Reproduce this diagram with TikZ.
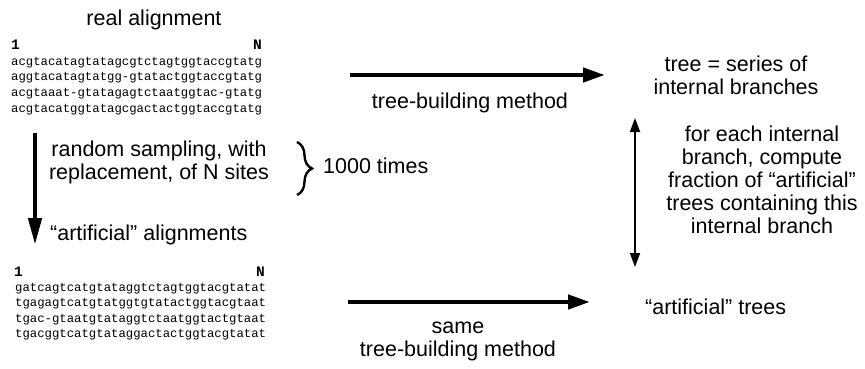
\documentclass[tikz,border=0pt]{standalone}
\usepackage{fontspec}
\setmainfont{Liberation Sans}
\newfontfamily\seqfont{Liberation Mono}
\usetikzlibrary{arrows.meta,decorations.pathreplacing}
\begin{document}
\begin{tikzpicture}[x=1pt,y=-1pt,
  lbl/.style={inner sep=0pt, anchor=base, align=center,
    font=\fontsize{21.5}{23}\selectfont},
  seq/.style={inner sep=0pt, anchor=base west,
    font=\seqfont\fontsize{12.3}{15}\selectfont},
  sitemark/.style={inner sep=0pt, font=\seqfont\bfseries\fontsize{14.5}{15}\selectfont},
  bigarrow/.style={line width=4.5pt, -{Triangle[length=22pt,width=14pt]}},
  downarrow/.style={line width=4.5pt, -{Triangle[length=27pt,width=13pt]}},
  thinboth/.style={line width=1.8pt, {Triangle[length=14pt,width=10pt]}-{Triangle[length=14pt,width=10pt]}}
]
\useasboundingbox (0,0) rectangle (865,369);

% real alignment
\node[lbl] (realtitle) at (154,26) {real alignment};
\node[sitemark, anchor=base west] (r1) at (11,50) {1};
\node[sitemark, anchor=base east] (rN) at (262,50) {N};
\node[seq] (ra1) at (11,65.5) {acgtacatagtatagcgtctagtggtaccgtatg};
\node[seq] (ra2) at (11,81) {aggtacatagtatgg-gtatactggtaccgtatg};
\node[seq] (ra3) at (11,96.5) {acgtaaat-gtatagagtctaatggtac-gtatg};
\node[seq] (ra4) at (11,112) {acgtacatggtatagcgactactggtaccgtatg};

% artificial alignments
\node[sitemark, anchor=base west] (a1) at (14,276.5) {1};
\node[sitemark, anchor=base east] (aN) at (265,276.5) {N};
\node[seq] (aa1) at (15,291) {gatcagtcatgtataggtctagtggtacgtatat};
\node[seq] (aa2) at (15,306.5) {tgagagtcatgtatggtgtatactggtacgtaat};
\node[seq] (aa3) at (15,322) {tgac-gtaatgtataggtctaatggtactgtaat};
\node[seq] (aa4) at (15,337.5) {tgacggtcatgtataggactactggtacgtatat};

% labels (a multi-line node sits on the baseline of its last line)
\node[lbl] (method) at (470,108) {tree-building method};
\node[lbl] (tree) at (736,95) {tree = series of\\internal branches};
\node[lbl] (sampling) at (159,179) {random sampling, with\\replacement, of N sites};
\node[lbl, anchor=base west] (artaln) at (50,240) {\textquotedblleft artificial\textquotedblright\ alignments};
\node[lbl, anchor=base west] (times) at (323,173) {1000 times};
\node[lbl] (fraction) at (762,233) {for each internal\\branch, compute\\fraction of \textquotedblleft artificial\textquotedblright\\trees containing this\\internal branch};
\node[lbl, anchor=base west] (arttrees) at (645,314) {\textquotedblleft artificial\textquotedblright\ trees};
\node[lbl] (samemethod) at (458,356) {same\\tree-building method};

% arrow end points
\coordinate (topS) at (350,75);
\coordinate (topE) at (605,75);
\coordinate (downS) at (35,133);
\coordinate (downE) at (35,245);
\coordinate (botS) at (348,302);
\coordinate (botE) at (590,302);
\coordinate (vTop) at (635,118);
\coordinate (vBot) at (635,267);
\coordinate (brTop) at (297,142);
\coordinate (brBot) at (297,195);

\draw[bigarrow] (topS) -- (topE);
\draw[downarrow] (downS) -- (downE);
\draw[bigarrow] (botS) -- (botE);
\draw[thinboth] (vTop) -- (vBot);
\draw[line width=2.4pt, decorate, decoration={brace, amplitude=15pt}] (brTop) -- (brBot);
\end{tikzpicture}
\end{document}
